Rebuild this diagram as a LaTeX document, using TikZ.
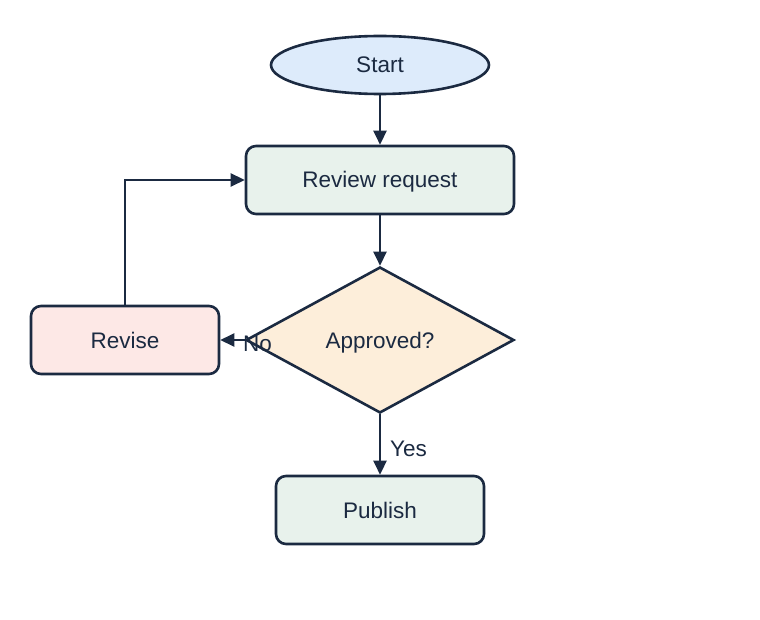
\documentclass[tikz,border=0pt]{standalone}
\usepackage{fontspec}
\setmainfont{Liberation Sans}
\usetikzlibrary{shapes.geometric,arrows.meta}
\definecolor{ink}{HTML}{1B2A41}
\definecolor{fblue}{HTML}{DDEBFB}
\definecolor{fgreen}{HTML}{E8F2EC}
\definecolor{fred}{HTML}{FDE8E6}
\definecolor{forange}{HTML}{FDEEDA}
\begin{document}
\begin{tikzpicture}[x=1pt,y=-1pt,
  every node/.style={font=\fontsize{22.5}{26}\selectfont, text=ink},
  lbl/.style={text height=16pt, text depth=0pt},
  box/.style={draw=ink, line width=2.6pt, rounded corners=10pt, minimum height=68pt, inner sep=0pt, lbl},
  conn/.style={draw=ink, line width=2.6pt, -{Triangle[length=14pt,width=13pt]}}]
\useasboundingbox (0,0) rectangle (760,620);
\node[ellipse, draw=ink, line width=2.6pt, fill=fblue, minimum width=218pt, minimum height=58pt, inner sep=0pt, lbl] (start) at (380,65) {Start};
\node[box, fill=fgreen, minimum width=268pt] (review) at (380,180) {Review request};
\node[diamond, draw=ink, line width=2.6pt, fill=forange, minimum width=268pt, minimum height=146pt, inner sep=0pt, lbl] (appr) at (380,340) {Approved?};
\node[box, fill=fred, minimum width=188pt] (revise) at (125,340) {Revise};
\node[box, fill=fgreen, minimum width=208pt] (pub) at (380,510) {Publish};
\draw[conn] (start) -- (review);
\draw[conn] (review) -- (appr);
\draw[conn] (appr.west) -- (revise.east);
\draw[conn] (appr.south) -- (pub.north);
\draw[conn] (revise.north) |- (review.west);
\node[anchor=west, inner sep=0pt, lbl] (no) at (243,343) {No};
\node[anchor=west, inner sep=0pt, lbl] (yes) at (390,448) {Yes};
\end{tikzpicture}
\end{document}
